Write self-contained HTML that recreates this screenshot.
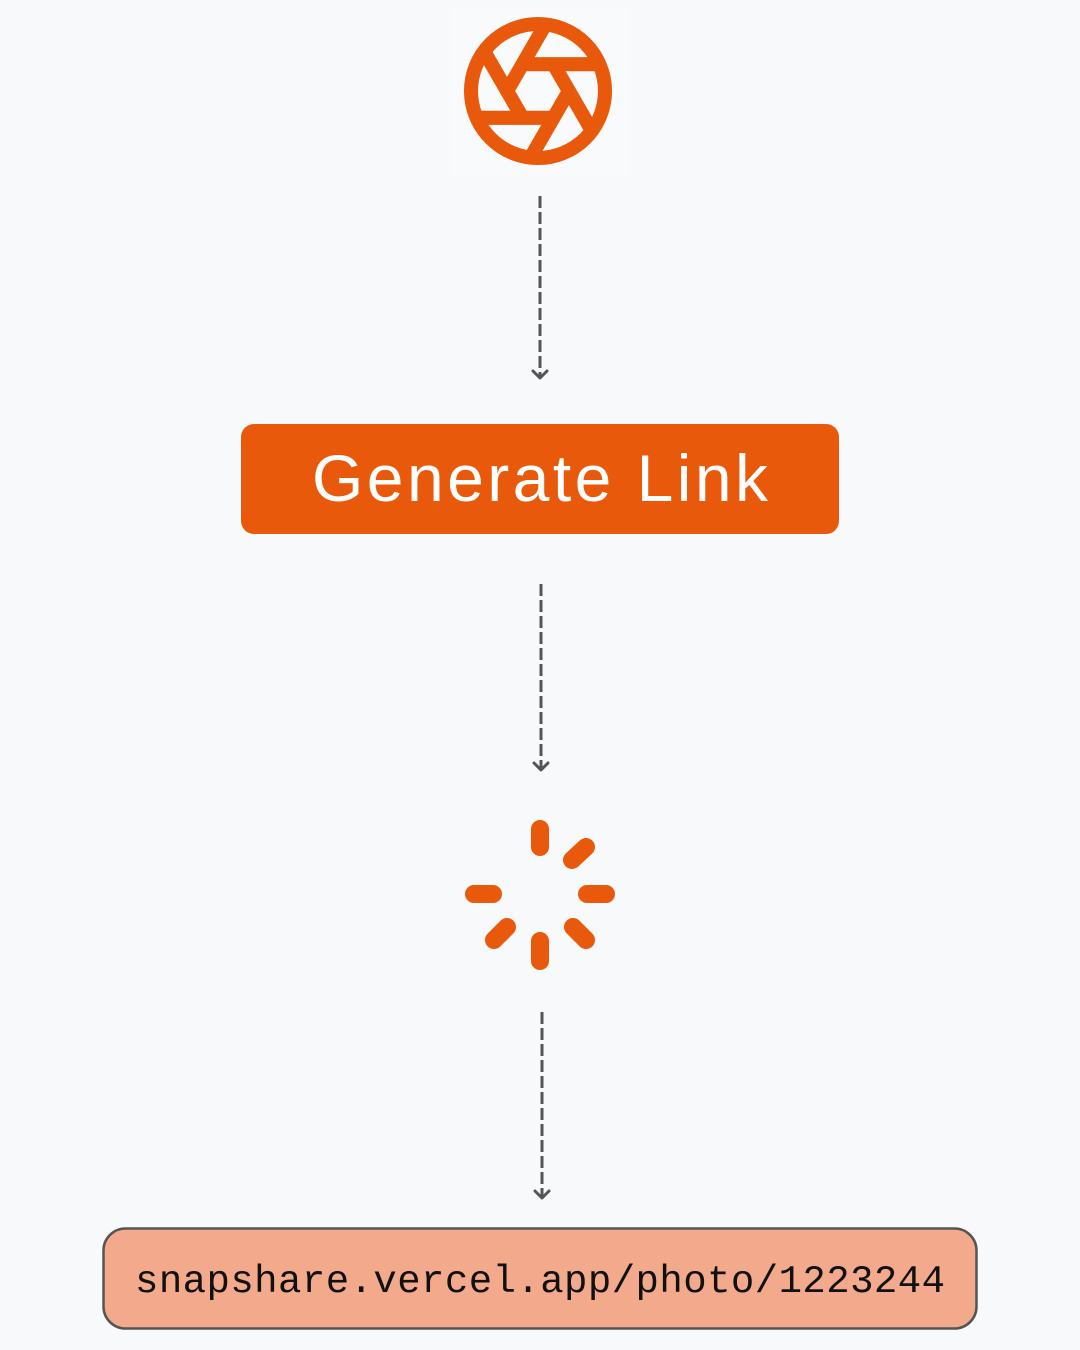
<!DOCTYPE html>
<html><head><meta charset="utf-8"><style>
html,body{margin:0;padding:0;background:#f8f9fa;}
svg{display:block}
</style></head><body>
<svg width="1080" height="1350" viewBox="0 0 1080 1350" xmlns="http://www.w3.org/2000/svg">
<rect width="1080" height="1350" fill="#f8f9fa"/>
<rect x="452" y="8" width="176" height="170" fill="#f9fafb"/>
<defs><clipPath id="c"><circle cx="12" cy="12" r="10.5"/></clipPath></defs>
<g transform="translate(457.6,10.6) scale(6.7)" fill="none" stroke="#e8590c" stroke-width="2.1" stroke-linecap="butt">
<circle cx="12" cy="12" r="10"/>
<g clip-path="url(#c)">
<path d="M14.31 8L20.05 17.94"/><path d="M9.69 8H21.17"/><path d="M7.38 12L13.12 2.06"/><path d="M9.69 16L3.95 6.06"/><path d="M14.31 16H2.83"/><path d="M16.62 12L10.88 21.94"/>
</g>
</g>
<g stroke="#555" stroke-width="3" fill="none">
<path d="M540 196V376" stroke-dasharray="12 4"/>
<path d="M541 584V768" stroke-dasharray="12 4"/>
<path d="M542 1012V1196" stroke-dasharray="12 4"/>
</g>
<g stroke="#555" stroke-width="3" fill="none" stroke-linecap="round" stroke-linejoin="round">
<path d="M533 371l7 7 7-7"/><path d="M534 763l7 7 7-7"/><path d="M535 1191l7 7 7-7"/>
</g>
<rect x="241" y="424" width="598" height="110" rx="13" fill="#e8590c"/>
<text x="540" y="501" text-anchor="middle" font-family="Liberation Sans, sans-serif" font-size="66" fill="#fff" textLength="456">Generate Link</text>
<g stroke="#e8590c" stroke-width="18" stroke-linecap="round">
<path d="M540 829v18"/><path d="M540 941v20"/>
<path d="M474 894h19"/><path d="M587 894h19"/>
<path d="M572 860l14-13"/><path d="M573 927l13 13"/>
<path d="M494 940l13-13"/>
</g>
<rect x="103.5" y="1228.5" width="873" height="100" rx="22" fill="#f2a98c" stroke="#555" stroke-width="2.5"/>
<text x="135" y="1292" font-family="Liberation Mono, monospace" font-size="39" fill="#111" textLength="810" lengthAdjust="spacing">snapshare.vercel.app/photo/1223244</text>
</svg>
</body></html>
